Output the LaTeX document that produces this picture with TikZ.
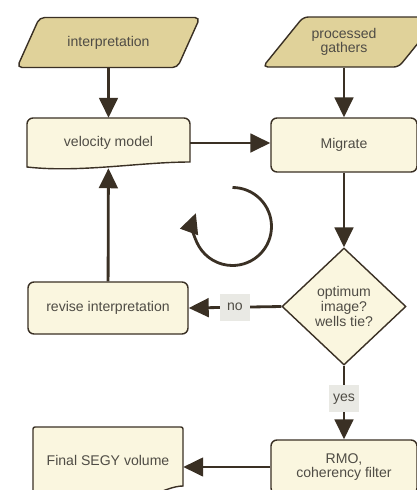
\documentclass[tikz,border=0pt]{standalone}
\usepackage{fontspec}
\setmainfont{Liberation Sans}
\usetikzlibrary{shapes.geometric,arrows.meta}
\definecolor{tan}{HTML}{E0D29A}
\definecolor{cream}{HTML}{FAF6DF}
\definecolor{edge}{HTML}{3A3024}
\definecolor{labelbg}{HTML}{E9E9E4}
\definecolor{ink}{HTML}{4F4C45}
\tikzset{
  every node/.style={font=\fontsize{12}{12.5}\selectfont, text=ink, align=center},
  io/.style={trapezium, trapezium stretches=true, trapezium left angle=55,
    trapezium right angle=125, draw=edge, line width=1.2pt, fill=tan,
    rounded corners=0.15cm, minimum height=1.5cm},
  proc/.style={rectangle, rounded corners=0.18cm, draw=edge, line width=1.2pt, fill=cream},
  docbox/.style={draw=edge, line width=1.2pt, fill=cream},
  test/.style={diamond, aspect=1.06, inner sep=0pt, draw=edge, line width=1.2pt,
    fill=cream, minimum width=3.72cm, minimum height=3.51cm},
  lbl/.style={fill=labelbg, minimum width=0.9cm, minimum height=0.8cm, inner sep=0pt},
  flow/.style={draw=edge, line width=2.4pt, -{Triangle[width=0.56cm,length=0.6cm]}}
}
\begin{document}
\begin{tikzpicture}[x=0.03cm,y=-0.03cm]
  \useasboundingbox[fill=white] (0,0) rectangle (417,490);
  \node[io, minimum width=5.49cm] at (108.5,42.5) (interp) {interpretation};
  \node[io, minimum width=5.3cm] at (351,42) (gathers) {\hspace*{-0.42cm}processed\\\hspace*{-0.42cm}gathers};
  \draw[docbox] (190,162) .. controls (140,162) and (80,173) .. (27,167)
    {[rounded corners=0.18cm] -- (27,118) -- (190,118)} -- cycle;
  \node[minimum width=4.89cm, minimum height=1.5cm] at (108.5,143) (vel) {velocity model};
  \node[proc, minimum width=4.38cm, minimum height=1.62cm] at (344,145) (migrate) {Migrate};
  \node[test] at (344,306.5) (check) {optimum\\image?\\wells tie?};
  \node[proc, minimum width=4.8cm, minimum height=1.56cm] at (108,308) (revise) {revise interpretation};
  \node[proc, minimum width=4.38cm, minimum height=1.62cm] at (344,467) (rmo) {RMO,\\coherency filter};
  \draw[docbox] (183,486) .. controls (165,486) and (140,505) .. (100,510)
    .. controls (70,514) and (50,505) .. (33,503)
    {[rounded corners=0.06cm] -- (33,427) -- (183,427)} -- cycle;
  \node[minimum width=4.5cm, minimum height=1.2cm] at (108,460) (final) {Final SEGY volume};
  \draw[flow] (interp) -- (vel);
  \draw[flow] (gathers.south -| migrate) -- (migrate);
  \draw[flow] (vel.east) -- (vel.east -| migrate.west);
  \draw[flow] (migrate) -- (check);
  \draw[flow] (check.west) -- node[lbl] {no} (revise.east);
  \draw[flow] (revise) -- (vel);
  \draw[flow] (check.south) -- node[lbl, pos=0.45] {yes} (rmo.north);
  \draw[flow] (rmo.west) -- (rmo.west -| final.east);
  \draw[flow] (232.5,187.5) arc[start angle=90, end angle=-200, radius=1.17cm];
\end{tikzpicture}
\end{document}
